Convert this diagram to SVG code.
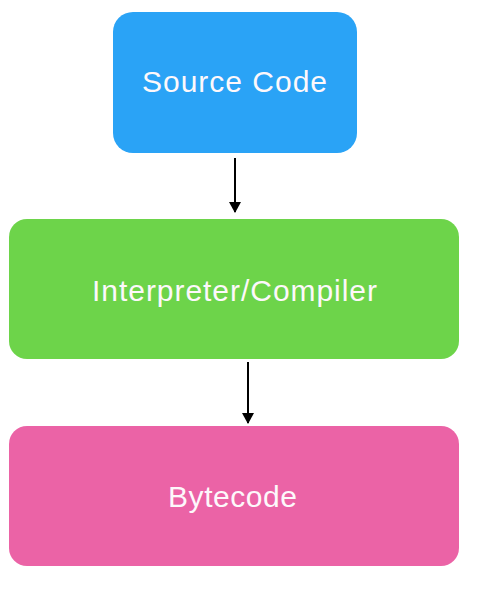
<svg xmlns="http://www.w3.org/2000/svg" width="478" height="607" viewBox="0 0 478 607">
<style>
.lbl{font-family:"Liberation Sans",Arial,sans-serif;fill:#fdf8fb;text-anchor:middle;font-size:30px}
.edge{stroke:#000000;stroke-width:2;fill:none}
</style>
<defs>
<marker id="ah" markerWidth="12" markerHeight="12" refX="10" refY="6" orient="auto" markerUnits="userSpaceOnUse">
<path d="M0,0 L11,6 L0,12 z" fill="#000000"/>
</marker>
</defs>
<rect width="478" height="607" fill="#ffffff"/>
<g id="source-code">
<rect x="113" y="12" width="244" height="141" rx="20" fill="#2aa3f6"/>
<text class="lbl" x="234.5" y="92" textLength="185" lengthAdjust="spacing">Source Code</text>
</g>
<g id="interpreter-compiler">
<rect x="9" y="219" width="450" height="140" rx="18" fill="#6dd44a"/>
<text class="lbl" x="234.5" y="301" textLength="285" lengthAdjust="spacing">Interpreter/Compiler</text>
</g>
<g id="bytecode">
<rect x="9" y="426" width="450" height="140" rx="18" fill="#eb63a6"/>
<text class="lbl" x="232.5" y="507" textLength="129" lengthAdjust="spacing">Bytecode</text>
</g>
<g id="connectors">
<line class="edge" x1="235" y1="158" x2="235" y2="212" marker-end="url(#ah)"/>
<line class="edge" x1="248" y1="362" x2="248" y2="423" marker-end="url(#ah)"/>
</g>
</svg>
